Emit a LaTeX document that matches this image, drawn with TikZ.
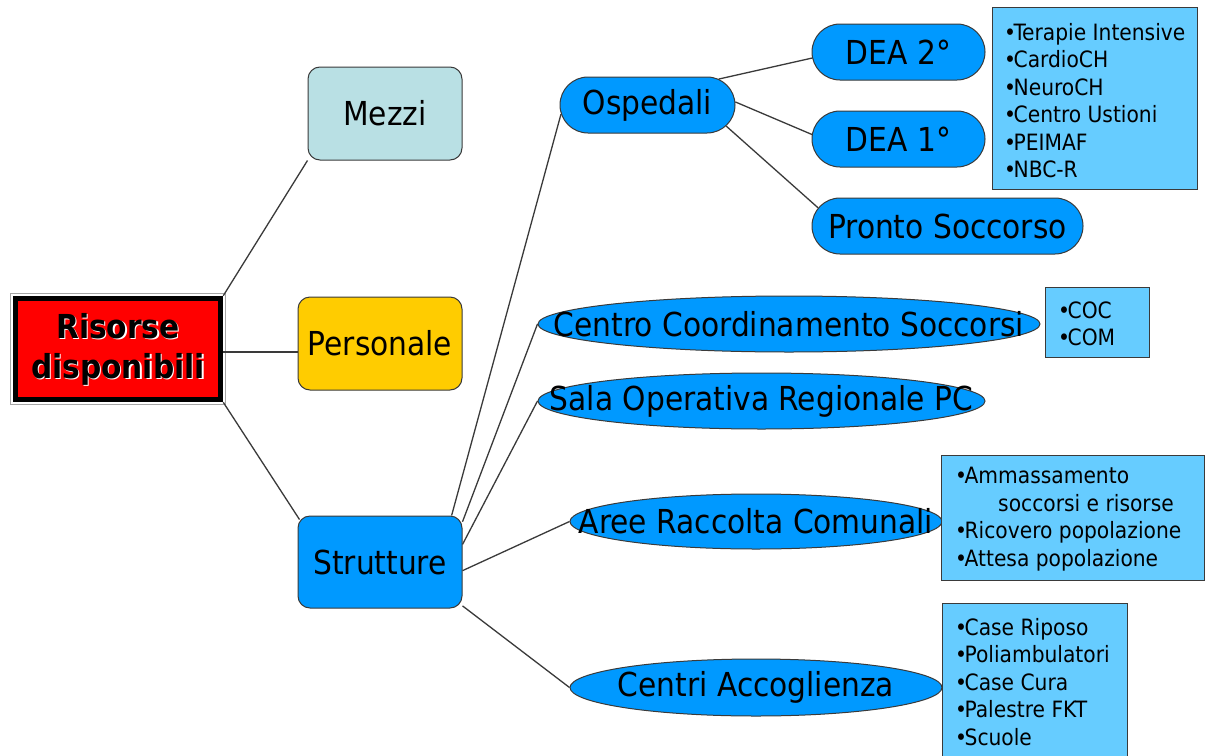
\documentclass[tikz,border=0pt]{standalone}
\usepackage{fontspec}
\setmainfont{DejaVu Sans Condensed}
\usetikzlibrary{shapes.geometric,shapes.misc,calc}

\definecolor{edge}{HTML}{3A3A3A}
\definecolor{vehicle}{HTML}{B9E0E4}
\definecolor{staff}{HTML}{FFCC00}
\definecolor{azure}{HTML}{0099FF}
\definecolor{sky}{HTML}{66CCFF}
\definecolor{alarm}{HTML}{FF0000}

% tight list bullet
\newcommand{\itm}{•\kern-2.5pt}

\begin{document}
\begin{tikzpicture}[x=1pt,y=-1pt,
  big/.style={font=\fontsize{33}{40}\selectfont},
  small/.style={font=\fontsize{22.5}{27.5}\selectfont},
  rbox/.style={rectangle, rounded corners=12pt, draw=edge, line width=1pt, inner sep=0pt, big},
  pill/.style={rounded rectangle, draw=edge, line width=1pt, fill=azure, inner sep=0pt, minimum height=56pt, big},
  oval/.style={ellipse, draw=edge, line width=1pt, fill=azure, inner sep=0pt, minimum height=56pt},
  listbox/.style={rectangle, draw=edge, line width=1.2pt, fill=sky, inner sep=0pt, anchor=north west},
  listtext/.style={align=left, inner sep=0pt, small, anchor=west},
  link/.style={draw=edge, line width=1.3pt}
]
\useasboundingbox[fill=white] (0,0) rectangle (1218,755);

% root box with its framed double border and shadowed title
\node[rectangle, draw=black, line width=5.5pt, fill=alarm, minimum width=205pt, minimum height=101pt, inner sep=0pt] (R) at (118,349) {};
\draw[gray!70, line width=1.2pt] ([shift={(-2.6pt,2.5pt)}]R.north west) rectangle ([shift={(2.6pt,-2.5pt)}]R.south east);
\node[font=\fontsize{33}{40}\selectfont\bfseries, text=white, align=center] (Rsh) at ([shift={(1.3pt,-1.3pt)}]R.center) {Risorse\\disponibili};
\node[font=\fontsize{33}{40}\selectfont\bfseries, text=black, align=center] (Rtx) at (R.center) {Risorse\\disponibili};

% first level
\node[rbox, fill=vehicle, minimum width=154pt, minimum height=93pt] (M) at (385,113.5) {Mezzi};
\node[rbox, fill=staff, minimum width=164pt, minimum height=93pt] (P) at (380,343.5) {Personale};
\node[rbox, fill=azure, minimum width=164pt, minimum height=92pt] (S) at (380,562) {Strutture};

% hospitals branch
\node[pill, minimum width=175pt] (O) at (647.5,105) {Ospedali};
\node[pill, minimum width=173pt] (D2) at (898.5,52) {DEA 2°};
\node[pill, minimum width=173pt] (D1) at (898.5,139) {DEA 1°};
\node[pill, minimum width=271pt] (PS) at (947.5,226) {Pronto Soccorso};

% other structures
\node[oval, minimum width=502pt] (ccs) at (789,324) {};
\node[big] (ccsT) at (ccs.center) {Centro Coordinamento Soccorsi};
\node[oval, minimum width=447pt] (sor) at (761.5,401) {};
\node[big] (sorT) at (sor.center) {Sala Operativa Regionale PC};
\node[oval, minimum width=372pt, minimum height=55pt] (are) at (756,521.5) {};
\node[big] (areT) at (are.center) {Aree Raccolta Comunali};
\node[oval, minimum width=372pt, minimum height=57pt] (cen) at (756,687.5) {};
\node[big] (cenT) at (cen.center) {Centri Accoglienza};

% detail lists
\node[listbox, minimum width=205pt, minimum height=182pt] (b1) at (992,7) {};
\node[listtext] (b1T) at (1004,100.5) {\itm Terapie Intensive\\\itm CardioCH\\\itm NeuroCH\\\itm Centro Ustioni\\\itm PEIMAF\\\itm NBC-R};
\node[listbox, minimum width=104pt, minimum height=70pt] (b2) at (1045,287) {};
\node[listtext] (b2T) at (1058,324) {\itm COC\\\itm COM};
\node[listbox, minimum width=263pt, minimum height=125pt] (b3) at (941,455) {};
\node[listtext] (b3T) at (955,519) {\itm Ammassamento\\\hspace*{43pt}soccorsi e risorse\\\itm Ricovero popolazione\\\itm Attesa popolazione};
\node[listbox, minimum width=185pt, minimum height=175pt] (b4) at (942,603) {};
\node[listtext] (b4T) at (955,682) {\itm Case Riposo\\\itm Poliambulatori\\\itm Case Cura\\\itm Palestre FKT\\\itm Scuole};

% connectors
\draw[link] (R.north east) -- (M.south west);
\draw[link] ([yshift=-3pt]R.east) -- ([yshift=-3pt]R.east -| P.west);
\draw[link] (R.south east) -- ([shift={(2pt,-4pt)}]S.north west);
\draw[link] (S.33) -- (O.186);
\draw[link] (S.26) -- (ccs.west);
\draw[link] (S.12) -- (sor.west);
\draw[link] (S.-6) -- (are.west);
\draw[link] (S.-28) -- (cen.west);
\draw[link] (O.20) -- (D2.184);
\draw[link] (O.2) -- (D1.177);
\draw[link] (O.-15) -- (PS.172);
\end{tikzpicture}
\end{document}
